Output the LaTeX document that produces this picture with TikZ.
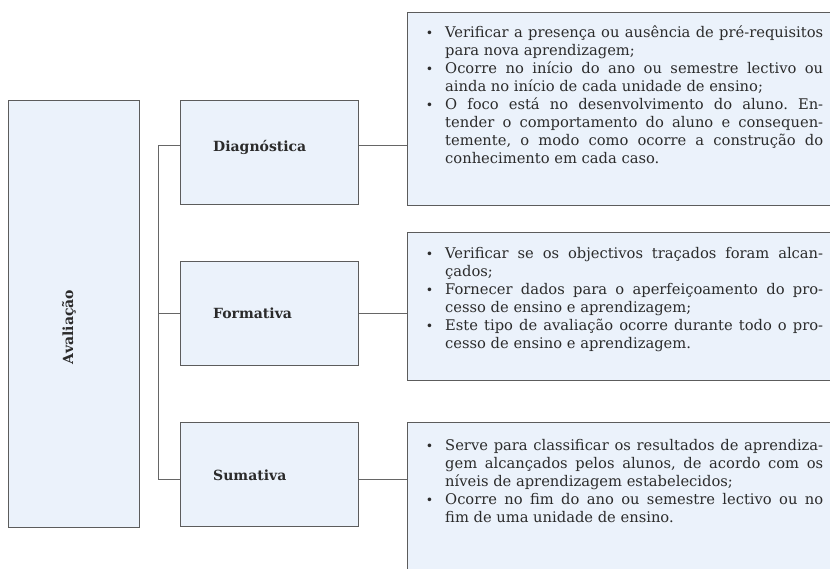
\documentclass[tikz,border=0pt]{standalone}
\usepackage{fontspec}
\setmainfont{DejaVu Serif}
\usepackage{xcolor}
\usepackage{enumitem}
\usepackage{tikz}

\definecolor{boxfill}{HTML}{EBF2FB}
\definecolor{boxline}{HTML}{5C5C5C}
\definecolor{linkcol}{HTML}{666666}
\definecolor{txtcol}{HTML}{2B2B2B}

\setlist[itemize]{label={\fontsize{12.5}{12.5}\selectfont\textbullet}, leftmargin=17pt, labelsep=12pt,
  topsep=0pt, partopsep=0pt, itemsep=0pt, parsep=0pt}
\hyphenpenalty=10000
\exhyphenpenalty=10000
\frenchspacing

\tikzset{
  box/.style={draw=boxline, fill=boxfill, line width=1pt, inner sep=0pt},
  mainbox/.style={box, minimum width=131pt, minimum height=427pt, anchor=north west},
  typebox/.style={box, minimum width=178pt, minimum height=104pt, anchor=north west},
  infobox/.style={box, minimum width=450pt, anchor=north west},
  headtxt/.style={font=\bfseries\fontsize{14}{16}\selectfont, text=txtcol, inner sep=0pt},
  infotxt/.style={text width=395pt, align=justify, anchor=base west,
    font=\fontsize{14.7}{18.1}\selectfont, text=txtcol, inner sep=0pt},
  link/.style={draw=linkcol, line width=1pt}
}

\begin{document}
\begin{tikzpicture}[x=1pt,y=-1pt]
  \useasboundingbox (0,0) rectangle (830,569);
  \clip (0,0) rectangle (830,569);

  \node[mainbox] (aval) at (8,100) {};
  \node[headtxt, rotate=90] (avallbl) at (69,327) {Avaliação};

  \node[typebox] (diag) at (180,100) {};
  \node[typebox] (form) at (180,261) {};
  \node[typebox] (sumat) at (180,422) {};
  \node[headtxt, anchor=base west] (diaglbl) at (213,152) {Diagnóstica};
  \node[headtxt, anchor=base west] (formlbl) at (213,319) {Formativa};
  \node[headtxt, anchor=base west] (sumatlbl) at (213,480) {Sumativa};

  \node[infobox, minimum height=193pt] (diaginfo) at (407,12) {};
  \node[infobox, minimum height=148pt] (forminfo) at (407,232) {};
  \node[infobox, minimum height=200pt] (sumatinfo) at (407,422) {};

  \node[infotxt] (diagtxt) at (428,19) {%
    \begin{itemize}
      \item Verificar a presença ou ausência de pré-requisitos \linebreak para nova aprendizagem;
      \item Ocorre no início do ano ou semestre lectivo ou \linebreak ainda no início de cada unidade de ensino;
      \item O foco está no desenvolvimento do aluno. En-\linebreak tender o comportamento do aluno e consequen-\linebreak temente, o modo como ocorre a construção do \linebreak conhecimento em cada caso.
    \end{itemize}};
  \node[infotxt] (formtxt) at (428,240) {%
    \begin{itemize}
      \item Verificar se os objectivos traçados foram alcan-\linebreak çados;
      \item Fornecer dados para o aperfeiçoamento do pro-\linebreak cesso de ensino e aprendizagem;
      \item Este tipo de avaliação ocorre durante todo o pro-\linebreak cesso de ensino e aprendizagem.
    \end{itemize}};
  \node[infotxt] (sumattxt) at (428,432) {%
    \begin{itemize}
      \item Serve para classificar os resultados de aprendiza-\linebreak gem alcançados pelos alunos, de acordo com os \linebreak níveis de aprendizagem estabelecidos;
      \item Ocorre no fim do ano ou semestre lectivo ou no \linebreak fim de uma unidade de ensino.
    \end{itemize}};

  \coordinate (dj) at ([yshift=7pt]diag.west);
  \coordinate (sj) at ([yshift=-5pt]sumat.west);
  \coordinate (dk) at ([yshift=7pt]diag.east);
  \coordinate (sk) at ([yshift=-5pt]sumat.east);

  \draw[link] (dj) -- ++(-22,0) |- (sj);
  \draw[link] (form.west) -- ++(-22,0);
  \draw[link] (dk) -- (dk -| diaginfo.west);
  \draw[link] (form.east) -- (form.east -| forminfo.west);
  \draw[link] (sk) -- (sk -| sumatinfo.west);
\end{tikzpicture}
\end{document}
